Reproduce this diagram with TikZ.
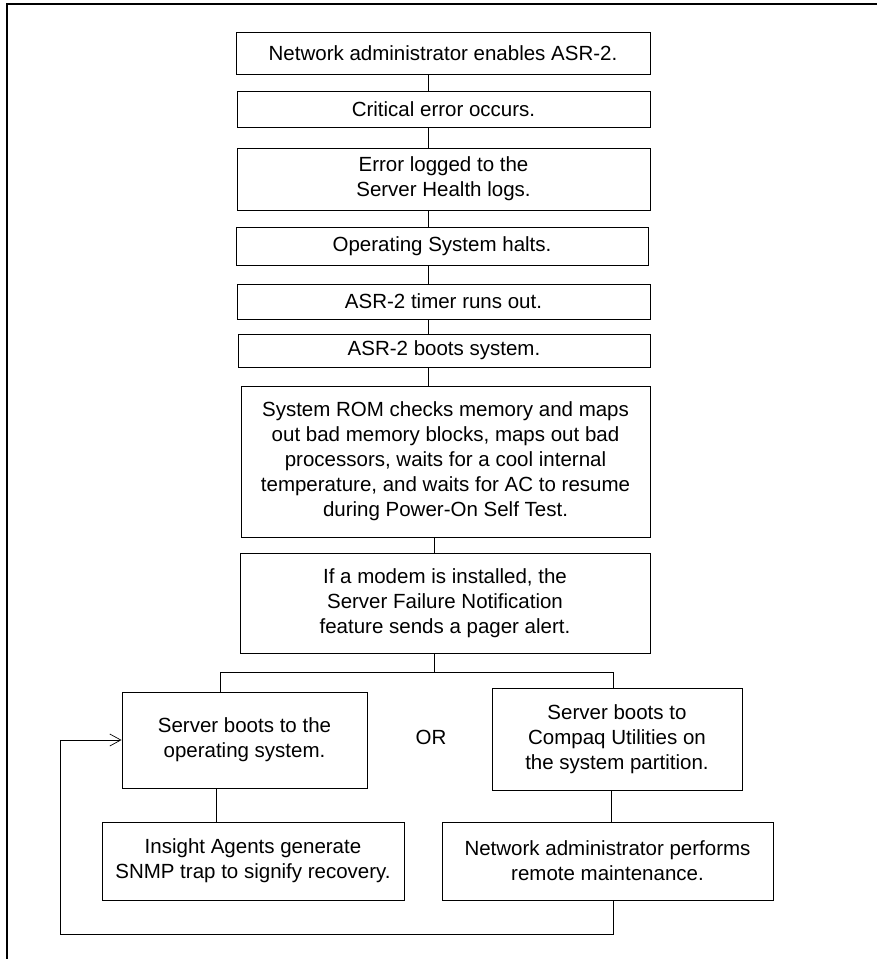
\documentclass[tikz,border=0pt]{standalone}
\usepackage{fontspec}
\setmainfont{Liberation Sans}
\usepackage{tikz}
\usetikzlibrary{arrows.meta, positioning}
\tikzstyle{box} = [draw, line width=0.9pt, align=center, inner sep=0pt, font=\fontsize{20.5}{25}\selectfont]
\tikzstyle{link} = [line width=0.7pt]
\tikzstyle{back} = [line width=0.7pt, -{Straight Barb[length=11pt, width=12pt, line width=0.7pt]}]

\begin{document}
\begin{tikzpicture}[x=1pt, y=1pt]
  \useasboundingbox (0,0) rectangle (877,-959);
  % frame
  \draw[line width=2.5pt] (7,-959) -- (7,-4) -- (877,-4);

  % main column
  \node[box, minimum width=414, minimum height=42] (enable) at (443,-53) {Network administrator enables ASR-2.};
  \node[box, minimum width=413, minimum height=36] (error) at (443.5,-109) {Critical error occurs.};
  \node[box, minimum width=413, minimum height=62] (logged) at (443.5,-179) {Error logged to the\\Server Health logs.};
  \node[box, minimum width=412, minimum height=38] (halt) at (442,-246) {Operating System halts.};
  \node[box, minimum width=413, minimum height=35] (timer) at (443.5,-301.5) {ASR-2 timer runs out.};
  \node[box, minimum width=412, minimum height=33] (boot) at (444,-350.5) {ASR-2 boots system.};
  \node[box, minimum width=409, minimum height=151] (rom) at (445.5,-461.5) {System ROM checks memory and maps\\out bad memory blocks, maps out bad\\processors, waits for a cool internal\\temperature, and waits for AC to resume\\during Power-On Self Test.};
  \node[box, minimum width=410, minimum height=100] (pager) at (445,-603) {If a modem is installed, the\\Server Failure Notification\\feature sends a pager alert.};

  % two outcomes
  \node[box, minimum width=245, minimum height=96] (bootOS) at (244.5,-740) {Server boots to the\\operating system.};
  \node[box, minimum width=250, minimum height=102] (bootUtil) at (617,-739) {Server boots to\\Compaq Utilities on\\the system partition.};
  \node[font=\fontsize{20.5}{25}\selectfont] (or) at (431,-737) {OR};
  \node[box, minimum width=302, minimum height=78] (snmp) at (253,-861) {Insight Agents generate\\SNMP trap to signify recovery.};
  \node[box, minimum width=331, minimum height=78] (maint) at (607.5,-861) {Network administrator performs\\remote maintenance.};

  % connector points
  \coordinate (spine) at (428,0);
  \coordinate (fork) at (434,-672);
  \coordinate (lft) at (220,-672);
  \coordinate (rgt) at (613,-672);
  \coordinate (ldown) at (216,0);
  \coordinate (rdown) at (611,0);
  \coordinate (loop) at (60,-934);

  % steps
  \draw[link] (enable.south -| spine) -- (error.north -| spine);
  \draw[link] (error.south -| spine) -- (logged.north -| spine);
  \draw[link] (logged.south -| spine) -- (halt.north -| spine);
  \draw[link] (halt.south -| spine) -- (timer.north -| spine);
  \draw[link] (timer.south -| spine) -- (boot.north -| spine);
  \draw[link] (boot.south -| spine) -- (rom.north -| spine);
  \draw[link] (rom.south -| fork) -- (pager.north -| fork);

  % branch
  \draw[link] (pager.south -| fork) -- (fork);
  \draw[link] (lft) -- (rgt);
  \draw[link] (lft) -- (lft |- bootOS.north);
  \draw[link] (rgt) -- (rgt |- bootUtil.north);
  \draw[link] (bootOS.south -| ldown) -- (snmp.north -| ldown);
  \draw[link] (bootUtil.south -| rdown) -- (maint.north -| rdown);

  % back to the operating system
  \draw[back] (maint.south -| rgt) |- (loop) |- (bootOS.west);
\end{tikzpicture}
\end{document}
